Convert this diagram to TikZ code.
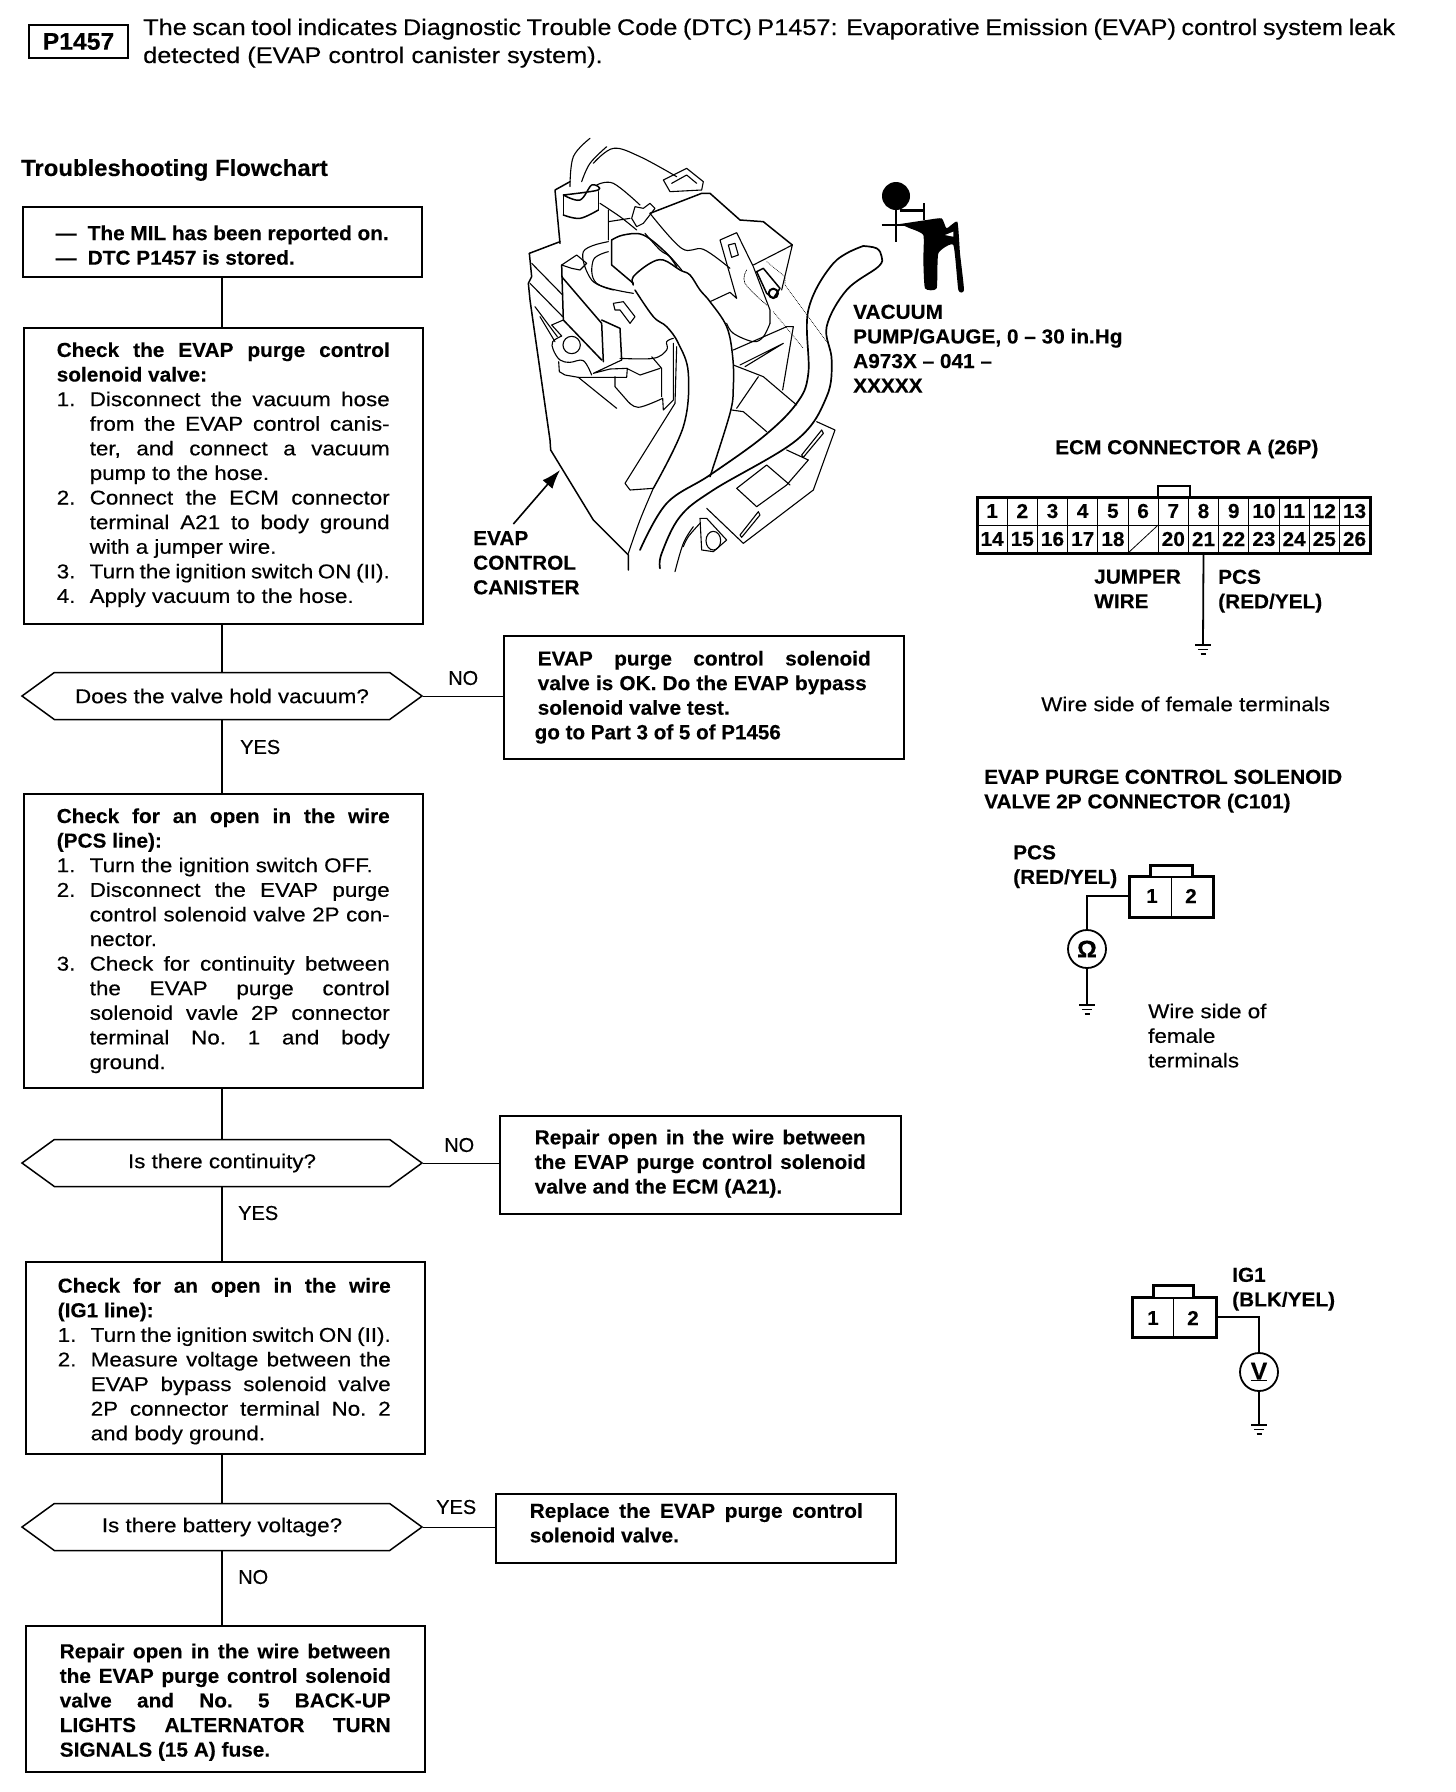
\documentclass[tikz,border=0pt]{standalone}
\usepackage{fontspec}
\usetikzlibrary{shapes.symbols,arrows.meta}
\setmainfont{Liberation Sans}
\newfontfamily\medf[FakeBold=0.35,FakeStretch=1.12]{Liberation Sans}
\newfontfamily\medn[FakeBold=0.35]{Liberation Sans}
\newfontfamily\bolf[FakeStretch=1.03,BoldFeatures={FakeBold=0.25}]{Liberation Sans}
\newcommand\bt{\fontsize{20.2}{24.6}\bolf\bfseries}
\newcommand\md{\fontsize{20}{24.6}\medf}
\newcommand\mn{\fontsize{20}{24.6}\medn}
\newcommand\fl[2][333pt]{\makebox[#1][s]{\frenchspacing\spaceskip=0pt\xspaceskip=0pt #2}}
\newcommand\nl[2]{\makebox[33pt][l]{#1}\fl[300pt]{#2}}
\newcommand\nr[2]{\makebox[33pt][l]{#1}#2}
\newcommand\il[1]{\hspace*{33pt}\fl[300pt]{#1}}
\newcommand\ir[1]{\hspace*{33pt}#1}
\newcommand\cv[2][]{\draw[ill,#1] plot[smooth,tension=.6] coordinates {#2};}
\newcommand\tall{\rule{0pt}{21.5pt}}
\newcommand\deep[1]{\rule[-#1]{0pt}{#1}}
\tikzset{
  fbox/.style={draw,line width=1.5pt,inner xsep=33pt,inner ysep=0pt,text width=333pt,align=flush left,font=\md,anchor=north west},
  sidebox/.style={fbox,inner xsep=34pt,text width=332pt},
  decide/.style={draw,line width=1.5pt,signal,signal to=west and east,signal pointer angle=72,minimum width=400pt,minimum height=47pt,inner sep=0pt,font=\md,fill=white},
  link/.style={line width=1.4pt},
  lab/.style={inner sep=0pt,align=left,anchor=west,font=\bt},
  plain/.style={inner sep=0pt,align=left,anchor=west,font=\md},
  conn/.style={draw,line width=3pt,inner sep=0pt},
  cell/.style={draw,line width=.7pt,minimum width=30.2pt,minimum height=28pt,inner sep=0pt,font=\bt},
  wire/.style={line width=1.8pt},
  meter/.style={draw,circle,line width=1.8pt,minimum size=38pt,inner sep=0pt,font=\fontsize{24}{26}\bolf\bfseries},
  ill/.style={line width=1.1pt,line cap=round,line join=round},
  heavy/.style={line width=1.5pt},
  dots/.style={line width=.7pt,densely dotted},
}
\newcommand\gndsym[1]{\draw[line width=1.2pt] ([xshift=-8pt]#1)--([xshift=8pt]#1) ([xshift=-5pt,yshift=-4.5pt]#1)--([xshift=5pt,yshift=-4.5pt]#1) ([xshift=-2.5pt,yshift=-9pt]#1)--([xshift=2.5pt,yshift=-9pt]#1);}
\begin{document}
\begin{tikzpicture}[x=1pt,y=-1pt]
\useasboundingbox (0,0) rectangle (1456,1792);
% heading
\node[draw,line width=1.6pt,inner sep=0pt,minimum width=99pt,minimum height=33pt,font=\fontsize{24}{26}\bolf\bfseries] (code) at (78.5,41.5) {P1457};
\node[plain,anchor=base west,font=\fontsize{22.6}{28}\medf] (head1) at (143,35) {\makebox[1252pt][s]{The scan tool indicates Diagnostic Trouble Code (DTC) P1457: Evaporative Emission (EVAP) control system leak}};
\node[plain,anchor=base west,font=\fontsize{22.6}{28}\medf] (head2) at (143,63) {detected (EVAP control canister system).};
\node[lab,font=\fontsize{23.2}{26}\bolf\bfseries] (tf) at (21,170) {Troubleshooting Flowchart};
% flow boxes
\node[fbox,minimum height=70pt] (a) at (22,206) {\bt\tall\makebox[32pt][l]{—}The MIL has been reported on.\\ \makebox[32pt][l]{—}DTC P1457 is stored.};
\node[fbox,minimum height=296pt] (b) at (23,327) {{\bt\fl{Check the EVAP purge control}\\solenoid valve:}\\
\nl{1.}{Disconnect the vacuum hose}\\\il{from the EVAP control canis-}\\\il{ter, and connect a vacuum}\\\ir{pump to the hose.}\\
\nl{2.}{Connect the ECM connector}\\\il{terminal A21 to body ground}\\\ir{with a jumper wire.}\\
\nl{3.}{Turn the ignition switch ON (II).}\\\nr{4.}{Apply vacuum to the hose.}\deep{6.3pt}};
\node[decide] (d1) at (222,696) {Does the valve hold vacuum?};
\node[sidebox,minimum height=123pt] (no1) at (503,635) {\bt\fl{EVAP purge control solenoid}\\\fl[329pt]{valve is OK. Do the EVAP bypass}\\solenoid valve test.\\\fontsize{20.6}{24.6}\medn\hspace*{-3pt}go to Part 3 of 5 of P1456};
\node[fbox,minimum height=294pt] (c) at (23,793) {{\bt\fl{Check for an open in the wire}\\(PCS line):}\\
\nr{1.}{Turn the ignition switch OFF.}\\\nl{2.}{Disconnect the EVAP purge}\\\il{control solenoid valve 2P con-}\\\ir{nector.}\\
\nl{3.}{Check for continuity between}\\\il{the EVAP purge control}\\\il{solenoid vavle 2P connector}\\\il{terminal No. 1 and body}\\\ir{ground.}};
\node[decide] (d2) at (222,1163) {\raisebox{-2pt}{Is there continuity?}};
\node[sidebox,minimum height=98pt,inner xsep=35pt,text width=331pt] (no2) at (499,1115) {\bt\fl[331pt]{Repair open in the wire between}\\\fl[331pt]{the EVAP purge control solenoid}\\valve and the ECM (A21).\deep{6.3pt}};
\node[fbox,minimum height=192pt,inner xsep=32pt,text width=335pt] (e) at (25,1261) {{\bt\tall\fl{Check for an open in the wire}\\(IG1 line):}\\
\nl{1.}{Turn the ignition switch ON (II).}\\\nl{2.}{Measure voltage between the}\\\il{EVAP bypass solenoid valve}\\\il{2P connector terminal No. 2}\\\ir{and body ground.}};
\node[decide] (d3) at (222,1527) {\raisebox{-2pt}{Is there battery voltage?}};
\node[sidebox,minimum height=69pt] (yes3) at (495,1493) {\bt\fl{Replace the EVAP purge control}\\solenoid valve.\deep{11pt}};
\node[fbox,minimum height=146pt,inner xsep=34pt,text width=331pt] (g) at (25,1625) {\bt\tall\fl[331pt]{Repair open in the wire between}\\\fl[331pt]{the EVAP purge control solenoid}\\\fl[331pt]{valve and No. 5 BACK-UP}\\\fl[331pt]{LIGHTS ALTERNATOR TURN}\\SIGNALS (15 A) fuse.};
% links
\draw[link] (d1.north |- a.south) -- (d1.north |- b.north);
\draw[link] (d1.north |- b.south) -- (d1.north);
\draw[link] (d1.south) -- (d1.south |- c.north);
\draw[link] (d2.north |- c.south) -- (d2.north);
\draw[link] (d2.south) -- (d2.south |- e.north);
\draw[link] (d3.north |- e.south) -- (d3.north);
\draw[link] (d3.south) -- (d3.south |- g.north);
\draw[link,line width=1pt] (d1.east) -- (d1.east -| no1.west);
\draw[link,line width=1pt] (d2.east) -- (d2.east -| no2.west);
\draw[link,line width=1pt] (d3.east) -- (d3.east -| yes3.west);
\node[plain,font=\mn] (ln1) at (448,678) {NO};
\node[plain,font=\mn] (ly1) at (240,747) {YES};
\node[plain,font=\mn] (ln2) at (444,1145) {NO};
\node[plain,font=\mn] (ly2) at (238,1213) {YES};
\node[plain,font=\mn] (ly3) at (436,1507) {YES};
\node[plain,font=\mn] (ln3) at (238,1577) {NO};
% right labels
\node[lab,anchor=north west] (pumpl) at (853,304.5) {VACUUM\\PUMP/GAUGE, 0 – 30 in.Hg\\A973X – 041 –\\XXXXX};
\node[lab,anchor=north west] (evapl) at (473,531) {EVAP\\CONTROL\\CANISTER};
\node[lab] (ecmt) at (1055,449) {ECM CONNECTOR A (26P)};
% ECM connector
\node[conn,minimum width=393pt,minimum height=56pt] (ecm) at (1173.5,525) {};
\draw[line width=2pt] (1158,497)--(1158,486)--(1190,486)--(1190,497);
\foreach \n [count=\i from 0] in {1,...,13}{
  \node[cell] (c\n) at ({977+30.2*(\i+.5)},511) {\n};}
\foreach \n [count=\i from 0] in {14,...,18}{
  \node[cell] (c\n) at ({977+30.2*(\i+.5)},539) {\n};}
\node[cell] (c19) at ({977+30.2*5.5},539) {};
\draw[line width=.8pt] (c19.south west)--(c19.north east);
\foreach \n [count=\i from 6] in {20,...,26}{
  \node[cell] (c\n) at ({977+30.2*(\i+.5)},539) {\n};}
\draw[line width=3pt] (977,497) rectangle (1370,553);
\node[lab,anchor=north west] (jw) at (1094,569.5) {JUMPER\\WIRE};
\node[lab,anchor=north west] (pcs1) at (1218,569.5) {PCS\\(RED/YEL)};
\coordinate (g1) at (1203,645);
\draw[wire] (c21.south) -- (g1);
\gndsym{g1}
\node[plain] (ws1) at (1041,704) {Wire side of female terminals};
% C101
\node[lab,anchor=north west] (c101t) at (984,769.5) {EVAP PURGE CONTROL SOLENOID\\VALVE 2P CONNECTOR (C101)};
\node[lab,anchor=north west] (pcs2) at (1013,845) {PCS\\(RED/YEL)};
\node[conn,minimum width=84pt,minimum height=41pt] (p2) at (1171,896.5) {};
\draw[line width=3pt,fill=white] (1150,876)--(1150,865)--(1192,865)--(1192,876);
\draw[line width=.8pt] (1171,876)--(1171,917);
\node[font=\bt,inner sep=0pt] (p21) at (1152,896) {1};
\node[font=\bt,inner sep=0pt] (p22) at (1191,896) {2};
\node[meter] (ohm) at (1087,949) {Ω};
\coordinate (g2) at (1087,1005);
\draw[wire] (p2.west |- p21) -| (ohm.north);
\draw[wire] (ohm.south) -- (g2);
\gndsym{g2}
\node[plain,anchor=north west] (ws2) at (1148,1003.5) {Wire side of\\female\\terminals};
% IG1
\node[lab,anchor=north west] (ig) at (1232,1267.5) {IG1\\(BLK/YEL)};
\node[conn,minimum width=84pt,minimum height=40pt] (p3) at (1174,1317) {};
\draw[line width=3pt,fill=white] (1153,1297)--(1153,1285)--(1193,1285)--(1193,1297);
\draw[line width=.8pt] (1173,1297)--(1173,1337);
\node[font=\bt,inner sep=0pt] (p31) at (1153,1318) {1};
\node[font=\bt,inner sep=0pt] (p32) at (1193,1318) {2};
\node[meter] (volt) at (1259,1372) {\underline{V}};
\coordinate (g3) at (1259,1425);
\draw[wire] (p3.east) -| (volt.north);
\draw[wire] (volt.south) -- (g3);
\gndsym{g3}
% arrow
\coordinate (arrtip) at (560,470);
\draw[line width=1.6pt,-{Latex[length=19pt,width=13pt]}] ([xshift=-13pt,yshift=7pt]evapl.north) -- (arrtip);
% illustration
\begin{scope}[shift={(480,120)},x=.33333pt,y=-.33333pt]
% canister
\draw[ill,heavy] (148,400)--(240,365);
\draw[ill,heavy] (148,400)--(155,470)--(145,490)--(150,540)--(210,960)--(212,990)--(340,1200)--(445,1305)--(445,1350);
\draw[ill] (155,430)--(248,525) (150,490)--(248,590) (165,560)--(232,650) (180,590)--(225,665);
\cv{(445,1300)(480,1200)(520,1105)}
\draw[ill] (590,680)--(585,850)--(435,1090)--(450,1110)--(520,1105);
% valve
\draw[ill,heavy] (225,210)--(240,370) (225,210)--(270,185);
\cv[heavy]{(250,225)(300,240)(335,195)(355,210)(250,225)}
\draw[ill,heavy] (250,225)--(250,285) (355,215)--(355,270);
\cv[heavy]{(250,285)(300,295)(355,270)}
\cv{(330,55)(280,110)(270,200)}
\cv{(380,80)(330,130)(305,185)}
\cv{(340,130)(400,85)(480,110)(590,170)}
\cv{(350,195)(400,190)(480,255)}
\cv{(360,250)(420,290)(470,330)}
\draw[ill] (385,270)--(385,360) (385,305)--(450,295);
\draw[ill] (455,295)--(465,260)--(490,265)--(510,250)--(525,265)--(490,310)--(470,320)--cycle;
\draw[ill,heavy] (510,280)--(665,220)--(690,220)--(780,300)--(850,305)--(937,375);
\draw[ill] (937,375)--(905,510) (937,375)--(820,435) (920,620)--(940,620)--(908,810);
\cv{(510,280)(605,385)(670,388)(750,445)}
\draw[ill] (550,180)--(620,145)--(670,185)--(665,210)--(570,215)--cycle (575,190)--(620,165)--(650,190);
\cv[heavy]{(395,360)(430,345)(490,345)(560,400)(590,440)}
\cv{(495,340)(540,390)(570,410)(605,450)}
\draw[ill,heavy] (395,360)--(395,435)--(460,490);
\cv{(385,395)(340,420)(350,490)(460,520)}
\cv{(385,365)(310,395)(335,480)(400,510)}
% clamp
\draw[ill] (245,435)--(290,405)--(320,430)--(300,450)--(275,445)--cycle;
\draw[ill,heavy] (245,435)--(250,600)--(365,720) (245,470)--(365,610)--(370,725) (365,600)--(420,625)--(425,720);
\draw[ill] (400,550)--(430,545)--(465,590)--(450,610)--(420,570)--(405,570)--cycle;
\draw[ill] (250,600)--(215,615)--(245,648);
\cv{(245,648)(218,665)(220,690)(240,720)(270,727)(310,722)(335,765)}
\draw[ill] (236,725)--(238,755)--(255,765)--(295,772)--(440,772)--(442,745)--(390,747)--(340,760)--(425,720);
\draw[ill] (295,772)--(410,865) (405,770)--(405,800)--(440,840) (515,710)--(545,745)--(545,830) (440,745)--(480,765)--(540,745);
\draw[ill] (580,670)--(580,840)--(550,870)--(548,835);
\cv{(440,840)(475,862)(548,835)}
\cv{(420,715)(520,715)(560,690)(560,665)(580,655)}
\draw[ill] (275,675) circle (26);
% big hose
\cv[heavy]{(460,495)(460,470)(510,430)(550,420)(600,450)(630,465)(660,510)(690,545)(740,620)(758,710)(760,800)(750,880)(690,1070)}
\cv[heavy]{(465,510)(520,590)(560,620)(595,670)(625,760)(610,920)(520,1105)}
% strap and nipple
\draw[ill] (720,360)--(770,338)--(820,440)--(870,570)--(870,610) (720,360)--(770,535)--(750,517)--(690,545);
\draw[ill] (745,375)--(765,370)--(775,405)--(755,412)--cycle;
\draw[ill,heavy] (830,455)--(850,445)--(900,505)--(880,535)--(860,520)--cycle;
\draw[ill,line width=2pt] (880,520) circle (14);
\cv[dots]{(800,450)(795,490)(860,555)}
\draw[dots] (860,425)--(915,470)--(915,495)--(1040,665) (880,575)--(970,685);
\cv{(870,610)(850,650)(820,665)(760,640)(740,610)}
\draw[ill] (760,690)--(920,620) (795,740)--(910,670)--(780,735) (760,735)--(850,770)--(950,855) (835,770)--(770,865) (755,870)--(790,875)--(860,935);
% long hose
\cv[line width=1.7pt]{(1150,378)(1190,385)(1205,410)(1195,440)(1100,510)(1040,620)(1055,720)(1040,830)(950,960)(700,1110)(600,1190)(545,1300)(540,1345)}
\cv[line width=1.7pt]{(1150,378)(1060,430)(985,570)(985,760)(950,850)(850,950)(690,1065)(560,1150)(480,1290)}
% lower bracket
\draw[ill] (1010,905)--(1065,930)--(1000,1110)--(790,1270)--(680,1165) (920,990)--(985,1020)--(920,1095)--(830,1160)--(770,1105)--(860,1035)--(930,1095);
\draw[ill] (965,1005)--(1025,930)--(1030,940)--(970,1012)--cycle (780,1245)--(835,1175)--(840,1185)--(785,1252)--cycle;
\draw[ill] (660,1195)--(665,1290)--(700,1295)--(740,1260)--(680,1195)--cycle;
\draw[ill] (700,1262) ellipse (22 and 28);
\cv{(640,1220)(610,1270)(585,1355)}
\cv{(660,1210)(625,1250)(610,1280)}
% pump
\fill (1248,228) circle (42);
\draw[line width=2.6pt] (1248,270)--(1248,365) (1205,315)--(1290,315) (1260,272)--(1335,272) (1332,250)--(1332,300);
\fill plot[smooth,tension=.3] coordinates {(1260,312)(1340,300)(1385,295)(1400,325)(1432,305)(1440,400)(1452,510)(1435,510)(1420,375)(1375,400)(1370,505)(1335,505)(1330,420)(1330,345)(1290,325)} -- cycle;
\fill[white] (1395,345)--(1420,335)--(1420,350)--cycle;
\end{scope}
\end{tikzpicture}
\end{document}
